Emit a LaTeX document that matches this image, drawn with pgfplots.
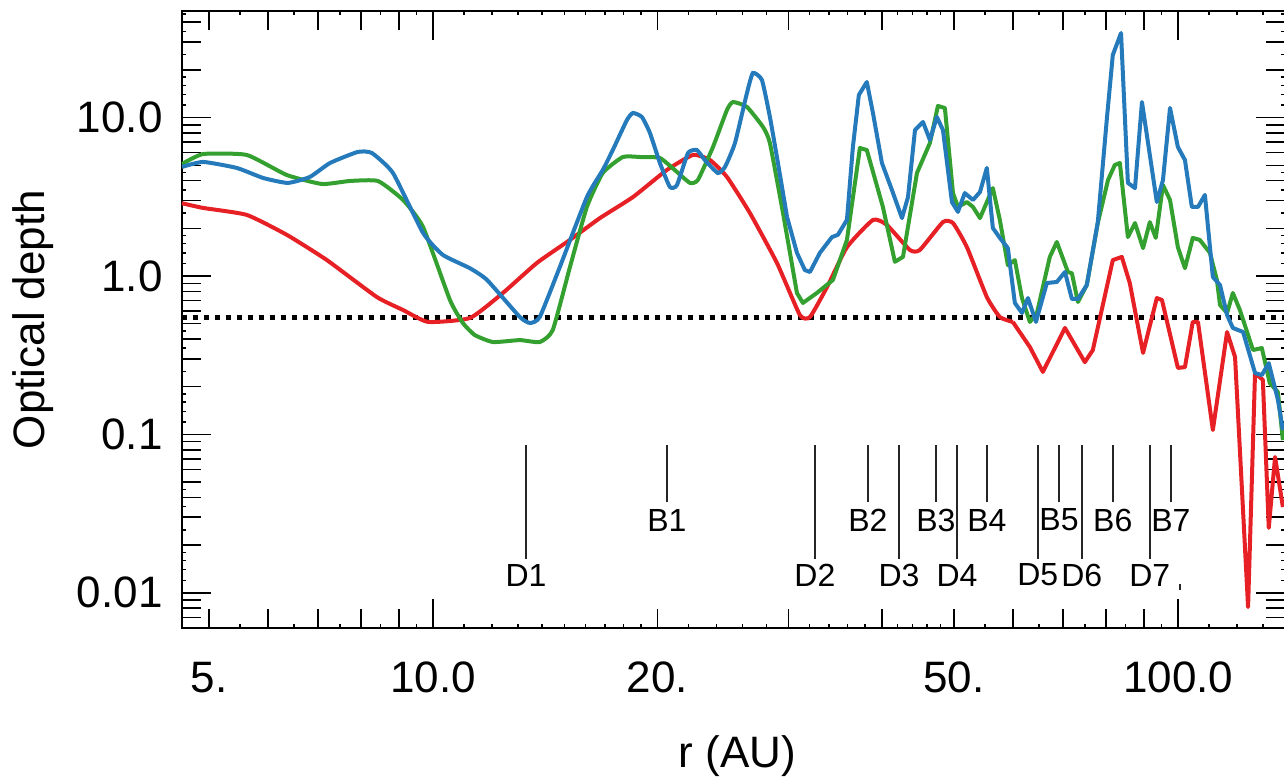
\documentclass[border=0pt]{standalone}
\usepackage{fontspec}
\setmainfont{Liberation Sans}
\usepackage{pgfplots}
\pgfplotsset{compat=1.18}
\definecolor{cred}{RGB}{230,32,36}
\definecolor{cgreen}{RGB}{52,160,48}
\definecolor{cblue}{RGB}{36,122,186}
\begin{document}
\begin{tikzpicture}
\begin{axis}[
 at={(0,0)}, anchor=south west,
 scale only axis, width=551.4pt, height=308.8pt,
 xmode=log, ymode=log,
 xmin=4.596, xmax=138.9, ymin=0.005971, ymax=47.3,
 axis line style={line width=1pt},
 xtick={10,100}, xticklabels={10.0,100.0},
 ytick={0.01,0.1,1,10}, yticklabels={0.01,0.1,1.0,10.0},
 extra x ticks={5,6,7,8,9,20,30,40,50,60,70,80,90},
 extra x tick labels={5.,,,,,20.,,,50.,,,,},
 extra y ticks={0.007,0.008,0.009,0.02,0.03,0.04,0.05,0.06,0.07,0.08,0.09,0.2,0.3,0.4,0.5,0.6,0.7,0.8,0.9,2,3,4,5,6,7,8,9,20,30,40},
 extra y tick labels={},
 extra x tick style={major tick length=9.5pt},
 extra y tick style={major tick length=9.5pt},
 minor xtick={5.5,6.5,7.5,8.5,9.5,11,12,13,14,15,16,17,18,19,22,24,26,28,32,34,36,38,42,44,46,48,55,65,75,85,95,110,120,130},
 minor ytick={0.012,0.014,0.016,0.018,0.025,0.035,0.045,0.12,0.14,0.16,0.18,0.25,0.35,0.45,1.2,1.4,1.6,1.8,2.5,3.5,4.5,12,14,16,18,25,35,45},
 major tick length=14.5pt, minor tick length=2pt,
 every tick/.style={black, line width=0.75pt},
 tick align=inside, xtick pos=both, ytick pos=both,
 tick label style={font=\fontsize{22}{26}\selectfont},
 xticklabel style={anchor=base, yshift=-31.85pt, inner sep=0pt},
 yticklabel style={anchor=east, xshift=-9.35pt, inner sep=0pt},
 xlabel={r (AU)}, ylabel={Optical depth},
 label style={font=\fontsize{22}{26}\selectfont},
 xlabel style={at={(axis description cs:0.504,-0.2246)}, anchor=base, inner sep=0pt},
 ylabel style={at={(axis description cs:-0.124,0.5)}, anchor=base, inner sep=0pt},
]
\addplot[black, line width=2.4pt, dash pattern=on 2.4pt off 3.1pt] coordinates {(4.596,0.55) (138.9,0.55)};

% red
\addplot[cred, line width=2pt, smooth, tension=0.3] coordinates {
(4.6,2.88) (4.91,2.69) (5.62,2.43) (6.36,1.82) (7.20,1.26) (8.40,0.737) (9.11,0.610) (9.84,0.513) (11.2,0.543) (12.4,0.781) (13.78,1.21) (15.26,1.69) (16.74,2.32) (18.54,3.15) (20.59,4.67) (22.32,5.81) (23.52,5.40) (24.79,4.22) (26.61,2.50) (28.93,1.21) (31.06,0.567) (32.04,0.551) (33.78,0.852) (35.92,1.52) (38.93,2.26) (40.64,2.10) (43.63,1.46) (45.0,1.46) (48.33,2.19) (49.85,2.16) (52.05,1.52) (55.35,0.737) (57.62,0.551) (59.98,0.513)
};
\addplot[cred, line width=2pt, line join=round] coordinates {
(59.98,0.513) (63.23,0.356) (65.82,0.248) (70.47,0.470) (74.94,0.286) (76.82,0.341) (81.7,1.26) (84.0,1.32) (86.1,0.903) (89.7,0.327) (93.6,0.726) (95.1,0.706) (99.9,0.263) (102.1,0.266) (104.6,0.513) (106.3,0.513) (111.3,0.1066) (116.3,0.443) (119.2,0.308) (124.1,0.00813) (126.8,0.244) (129.9,0.221) (132.3,0.0257) (134.9,0.0720) (138.2,0.0348)
};

% green
\addplot[cgreen, line width=2pt, smooth, tension=0.3] coordinates {
(4.6,5.09) (4.91,5.89) (5.62,5.81) (6.36,4.34) (7.09,3.81) (7.73,3.98) (8.43,3.98) (9.11,3.02) (9.69,2.04) (10.53,0.706) (10.96,0.505) (11.37,0.424) (12.03,0.383) (13.07,0.394) (13.90,0.383) (14.47,0.456) (15.26,1.14) (16.08,2.73) (16.89,4.47) (17.97,5.64) (18.94,5.64) (20.15,5.56) (21.24,4.54) (22.11,3.87) (22.66,4.04) (23.74,6.52) (24.79,11.17) (25.26,12.54) (26.37,11.67) (27.71,8.73) (28.31,6.91) (29.48,2.50)
};
\addplot[cgreen, line width=2pt, line join=round] coordinates {
(29.48,2.50) (30.78,0.781) (31.35,0.676) (32.73,0.781) (34.40,0.944) (35.92,1.69) (37.39,6.43) (38.20,6.24) (40.14,2.73) (41.66,1.23) (42.71,1.32) (44.6,4.47) (46.42,6.91) (47.58,11.84) (48.62,11.50) (49.85,3.34) (50.62,2.73) (52.05,2.93) (53.03,2.73) (54.19,2.32) (56.39,3.59) (57.62,2.26) (59.07,1.17) (60.36,1.26) (61.7,0.726) (63.23,0.513) (64.62,0.584) (67.25,1.32) (68.72,1.64) (71.12,1.06) (72.0,1.04) (73.35,0.685) (75.4,0.877) (78.0,2.16) (80.5,4.04) (82.2,5.02) (83.5,5.17) (85.6,1.76) (87.5,2.16) (89.7,1.50) (91.6,2.19) (93.3,1.74) (95.4,3.75) (97.5,3.02) (99.9,1.52) (102.1,1.12) (104.6,1.74) (106.9,1.69) (110.3,1.40) (112.7,0.944) (113.8,0.656) (116.3,0.584) (118.4,0.781) (121.0,0.610) (126.0,0.341) (129.5,0.351) (132.7,0.211) (136.1,0.185) (138.2,0.092)
};

% blue
\addplot[cblue, line width=2pt, smooth, tension=0.3] coordinates {
(4.6,4.88) (4.91,5.25) (5.45,4.81) (5.91,4.16) (6.38,3.87) (6.83,4.22) (7.27,5.17) (7.92,6.07) (8.27,5.98) (8.83,4.47) (9.69,1.87) (10.30,1.36) (11.2,1.12) (11.81,0.944) (13.07,0.551) (13.49,0.505) (13.90,0.551) (14.79,1.14) (16.08,3.15) (16.89,4.67) (17.42,6.24) (18.20,9.66) (18.54,10.69) (19.06,10.09) (19.54,8.0) (20.15,5.17) (20.78,3.65) (21.24,3.75) (21.98,5.98) (22.59,6.24) (23.15,5.40) (24.1,4.47) (24.64,4.88) (25.41,6.91) (26.37,14.3) (26.86,19.12) (27.62,17.27) (28.31,10.09) (28.93,5.64) (29.85,2.36)
};
\addplot[cblue, line width=2pt, line join=round] coordinates {
(29.85,2.36) (30.78,1.40) (31.54,1.09) (32.04,1.06) (33.04,1.40) (34.29,1.76) (34.93,1.82) (35.92,2.26) (36.59,6.52) (37.27,13.9) (38.20,16.78) (38.93,10.69) (40.02,5.17) (41.28,3.49) (42.58,2.32) (43.38,3.15) (44.33,8.35) (45.44,9.38) (46.42,7.22) (47.43,10.09) (48.33,8.35) (49.69,2.93) (50.62,2.54) (51.7,3.34) (53.03,3.02) (54.19,3.39) (55.35,4.81) (56.39,2.01) (57.62,1.74) (59.07,1.50) (60.36,0.676) (61.7,0.584) (62.85,0.726) (64.42,0.513) (66.63,0.903) (68.72,0.917) (70.47,1.06) (72.0,0.716) (73.35,0.716) (75.4,0.877) (78.0,2.19) (80.25,10.09) (81.7,24.85) (83.8,34.2) (85.6,3.87) (87.5,3.59) (89.4,12.54) (93.6,2.93) (95.4,4.04) (97.5,11.5) (99.9,6.52) (102.1,5.40) (104.3,2.73) (106.3,2.73) (108.6,3.25) (111.3,0.986) (113.8,0.877) (116.3,0.567) (118.4,0.470) (122.2,0.443) (126.8,0.244) (129.5,0.237) (132.3,0.282) (136.1,0.165) (138.2,0.1066)
};

% ring / gap markers
\foreach \xx in {13.32,32.54,42.19,50.47,64.8,74.24,91.6} {
  \edef\tmp{\noexpand\draw[black!85, line width=0.75pt] (axis cs:\xx,0.0857) -- (axis cs:\xx,0.01634);}\tmp
}
\foreach \xx in {20.59,38.33,47.29,55.35,69.18,81.7,97.77} {
  \edef\tmp{\noexpand\draw[black!85, line width=0.75pt] (axis cs:\xx,0.0857) -- (axis cs:\xx,0.0374);}\tmp
}
\draw[black!85, line width=0.75pt] (axis cs:100.5,0.01137) -- (axis cs:100.5,0.01042);
\tikzset{lab/.style={font=\fontsize{16}{19}\selectfont, inner sep=0pt}}
\node[lab] at (axis cs:13.32,0.01295) {D1};
\node[lab] at (axis cs:32.54,0.01295) {D2};
\node[lab] at (axis cs:42.19,0.01295) {D3};
\node[lab] at (axis cs:50.47,0.01295) {D4};
\node[lab] at (axis cs:64.8,0.01295) {D5};
\node[lab] at (axis cs:74.24,0.01295) {D6};
\node[lab] at (axis cs:91.6,0.01295) {D7};
\node[lab] at (axis cs:20.59,0.0288) {B1};
\node[lab] at (axis cs:38.33,0.0288) {B2};
\node[lab] at (axis cs:47.29,0.0288) {B3};
\node[lab] at (axis cs:55.35,0.0288) {B4};
\node[lab] at (axis cs:69.18,0.0288) {B5};
\node[lab] at (axis cs:81.7,0.0288) {B6};
\node[lab] at (axis cs:97.77,0.0288) {B7};
\end{axis}
\pgfresetboundingbox
\path (-90.85pt,-74.35pt) rectangle (551.15pt,314.15pt);
\end{tikzpicture}
\end{document}
